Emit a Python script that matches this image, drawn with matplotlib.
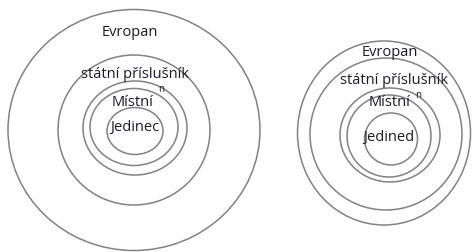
import matplotlib
matplotlib.use("Agg")
from matplotlib import pyplot as plt
from matplotlib.patches import Ellipse

# rings of each diagram: centre x, centre y, width, height (pixel units)
left_cx = [134, 134, 135, 134, 135]
left_cy = [130, 130, 128, 127, 131]
left_w = [252, 152, 104, 88, 56]
left_h = [241, 150, 94, 77, 47]

right_cx = [384, 386, 390, 389, 391]
right_cy = [133, 134, 135, 136, 139]
right_w = [173, 152, 100, 84, 53]
right_h = [184, 152, 94, 82, 52]

# labels: text, x, y
left_labels = ["Evropan", "státní příslušník", "Místní", "Jedinec"]
left_lx = [130, 135, 133, 135]
left_ly = [33, 75, 102, 128]

right_labels = ["Evropan", "státní příslušník", "Místní", "Jedined"]
right_lx = [390, 394, 390, 389]
right_ly = [53, 81, 103, 137]

# the small stray "n" marks
marks_x = [161, 418]
marks_y = [89, 95]

ring_color = "#828282"
text_color = "#1a1a2a"

fig = plt.figure(figsize=(4.77, 2.52), dpi=100)
ax = fig.add_axes([0, 0, 1, 1])
ax.set_xlim(0, 477)
ax.set_ylim(252, 0)
ax.axis("off")

for cx, cy, w, h in zip(left_cx + right_cx, left_cy + right_cy,
                        left_w + right_w, left_h + right_h):
    ax.add_patch(Ellipse((cx, cy), w, h, fill=False,
                         edgecolor=ring_color, lw=1.1))

for t, x, y in zip(left_labels + right_labels, left_lx + right_lx,
                   left_ly + right_ly):
    ax.text(x, y, t, ha="center", va="center", fontsize=10.5,
            family="Open Sans", color=text_color)

for x, y in zip(marks_x, marks_y):
    ax.text(x, y, "n", ha="center", va="center", fontsize=7,
            family="Open Sans", color=text_color)

fig.savefig("out.png", dpi=100, facecolor="white")
